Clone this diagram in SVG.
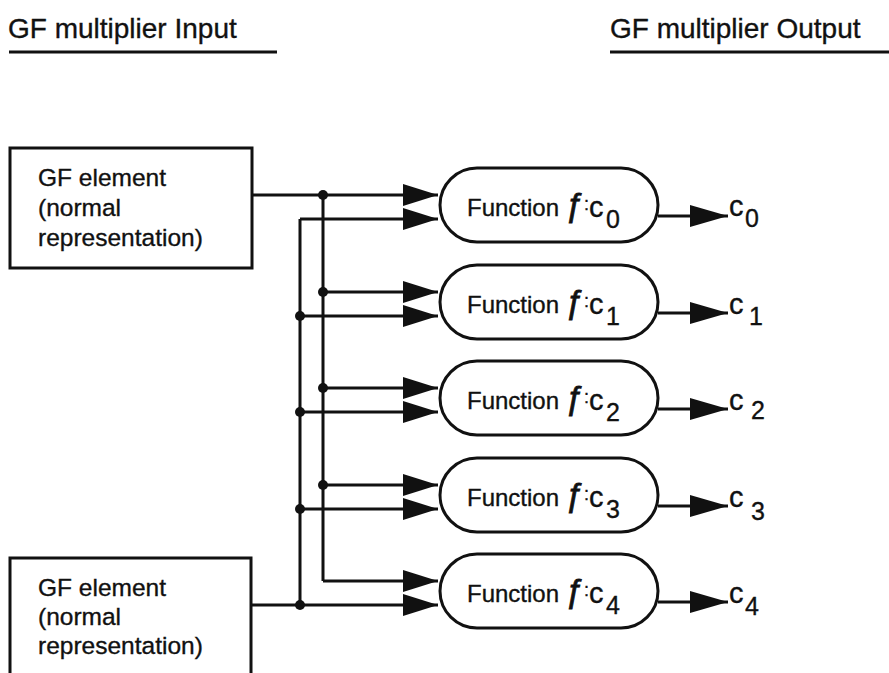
<svg xmlns="http://www.w3.org/2000/svg" width="889" height="673" viewBox="0 0 889 673">
<defs>
<style>
text{font-family:"Liberation Sans",Arial,Helvetica,sans-serif;fill:#111;stroke:#111;stroke-width:0.35}
.title{font-size:28px}
.box{fill:none;stroke:#111;stroke-width:3}
.pill{fill:#fff;stroke:#111;stroke-width:3}
.wire{fill:none;stroke:#111;stroke-width:3}
.in{marker-end:url(#ah)}
.out{marker-end:url(#ah2)}
.bt{font-size:24.5px}
.fn{font-size:24px}
.ff{font-size:33px;stroke-width:0.8}
.col{font-size:18px}
.cc{font-size:29px}
.sub{font-size:25px}
.oc{font-size:29px}
.os{font-size:25px}
</style>
<marker id="ah" markerUnits="userSpaceOnUse" markerWidth="36" markerHeight="24" refX="35" refY="11" orient="auto" viewBox="0 0 36 24">
<path d="M0,0 L35,11 L0,22 z" fill="#111"/>
</marker>
<marker id="ah2" markerUnits="userSpaceOnUse" markerWidth="40" markerHeight="24" refX="38" refY="11" orient="auto" viewBox="0 0 40 24">
<path d="M0,0 L38,11 L0,22 z" fill="#111"/>
</marker>
</defs>
<rect width="889" height="673" fill="#fff"/>

<g id="title-input">
<text class="title" x="8" y="38">GF multiplier Input</text>
<line x1="9" y1="52" x2="277" y2="52" stroke="#111" stroke-width="3"/>
</g>
<g id="title-output">
<text class="title" x="610" y="38">GF multiplier Output</text>
<line x1="610" y1="52" x2="889" y2="52" stroke="#111" stroke-width="3"/>
</g>

<g id="input1">
<rect class="box" x="10" y="148" width="242" height="120"/>
<text class="bt" x="38" y="186">GF element</text>
<text class="bt" x="38" y="216">(normal</text>
<text class="bt" x="38" y="246">representation)</text>
</g>
<g id="input2">
<rect class="box" x="10" y="558" width="241" height="130"/>
<text class="bt" x="38" y="596">GF element</text>
<text class="bt" x="38" y="625">(normal</text>
<text class="bt" x="38" y="654">representation)</text>
</g>

<g id="connectors">
<polyline class="wire in" points="252,195 438,195"/>
<polyline class="wire" points="323,195 323,581"/>
<polyline class="wire in" points="300,219 438,219"/>
<polyline class="wire" points="300,219 300,605"/>
<polyline class="wire in" points="323,292 438,292"/>
<polyline class="wire in" points="300,316 438,316"/>
<polyline class="wire in" points="323,388 438,388"/>
<polyline class="wire in" points="300,412 438,412"/>
<polyline class="wire in" points="323,485 438,485"/>
<polyline class="wire in" points="300,509 438,509"/>
<polyline class="wire in" points="323,581 438,581"/>
<polyline class="wire in" points="251,605 438,605"/>
<g fill="#111">
<circle cx="323" cy="195" r="5"/>
<circle cx="323" cy="292" r="5"/>
<circle cx="323" cy="388" r="5"/>
<circle cx="323" cy="485" r="5"/>
<circle cx="300" cy="316" r="5"/>
<circle cx="300" cy="412" r="5"/>
<circle cx="300" cy="509" r="5"/>
<circle cx="300" cy="605" r="5"/>
</g>
<line class="wire out" x1="658" y1="216" x2="728" y2="216"/>
<line class="wire out" x1="658" y1="313" x2="728" y2="313"/>
<line class="wire out" x1="658" y1="409" x2="728" y2="409"/>
<line class="wire out" x1="658" y1="506" x2="728" y2="506"/>
<line class="wire out" x1="658" y1="602" x2="728" y2="602"/>
</g>

<g id="f0">
<rect class="pill" x="440" y="168" width="218" height="74" rx="37"/>
<text class="fn" x="467" y="216">Function</text>
<text class="ff" x="566" y="216">ƒ</text>
<text class="col" x="584" y="210">:</text>
<text class="cc" x="589" y="217">c</text>
<text class="sub" x="606" y="228">0</text>
</g>
<g id="f1">
<rect class="pill" x="440" y="265" width="218" height="74" rx="37"/>
<text class="fn" x="467" y="313">Function</text>
<text class="ff" x="566" y="313">ƒ</text>
<text class="col" x="584" y="307">:</text>
<text class="cc" x="589" y="314">c</text>
<text class="sub" x="606" y="325">1</text>
</g>
<g id="f2">
<rect class="pill" x="440" y="361" width="218" height="74" rx="37"/>
<text class="fn" x="467" y="409">Function</text>
<text class="ff" x="566" y="409">ƒ</text>
<text class="col" x="584" y="403">:</text>
<text class="cc" x="589" y="410">c</text>
<text class="sub" x="606" y="421">2</text>
</g>
<g id="f3">
<rect class="pill" x="440" y="458" width="218" height="74" rx="37"/>
<text class="fn" x="467" y="506">Function</text>
<text class="ff" x="566" y="506">ƒ</text>
<text class="col" x="584" y="500">:</text>
<text class="cc" x="589" y="507">c</text>
<text class="sub" x="606" y="518">3</text>
</g>
<g id="f4">
<rect class="pill" x="440" y="554" width="218" height="74" rx="37"/>
<text class="fn" x="467" y="602">Function</text>
<text class="ff" x="566" y="602">ƒ</text>
<text class="col" x="584" y="596">:</text>
<text class="cc" x="589" y="603">c</text>
<text class="sub" x="606" y="614">4</text>
</g>

<g id="out0"><text class="oc" x="729" y="216">c</text><text class="os" x="745" y="227">0</text></g>
<g id="out1"><text class="oc" x="729" y="314">c</text><text class="os" x="749" y="325">1</text></g>
<g id="out2"><text class="oc" x="729" y="410">c</text><text class="os" x="751" y="419">2</text></g>
<g id="out3"><text class="oc" x="729" y="507">c</text><text class="os" x="751" y="520">3</text></g>
<g id="out4"><text class="oc" x="729" y="603">c</text><text class="os" x="745" y="615">4</text></g>
</svg>
